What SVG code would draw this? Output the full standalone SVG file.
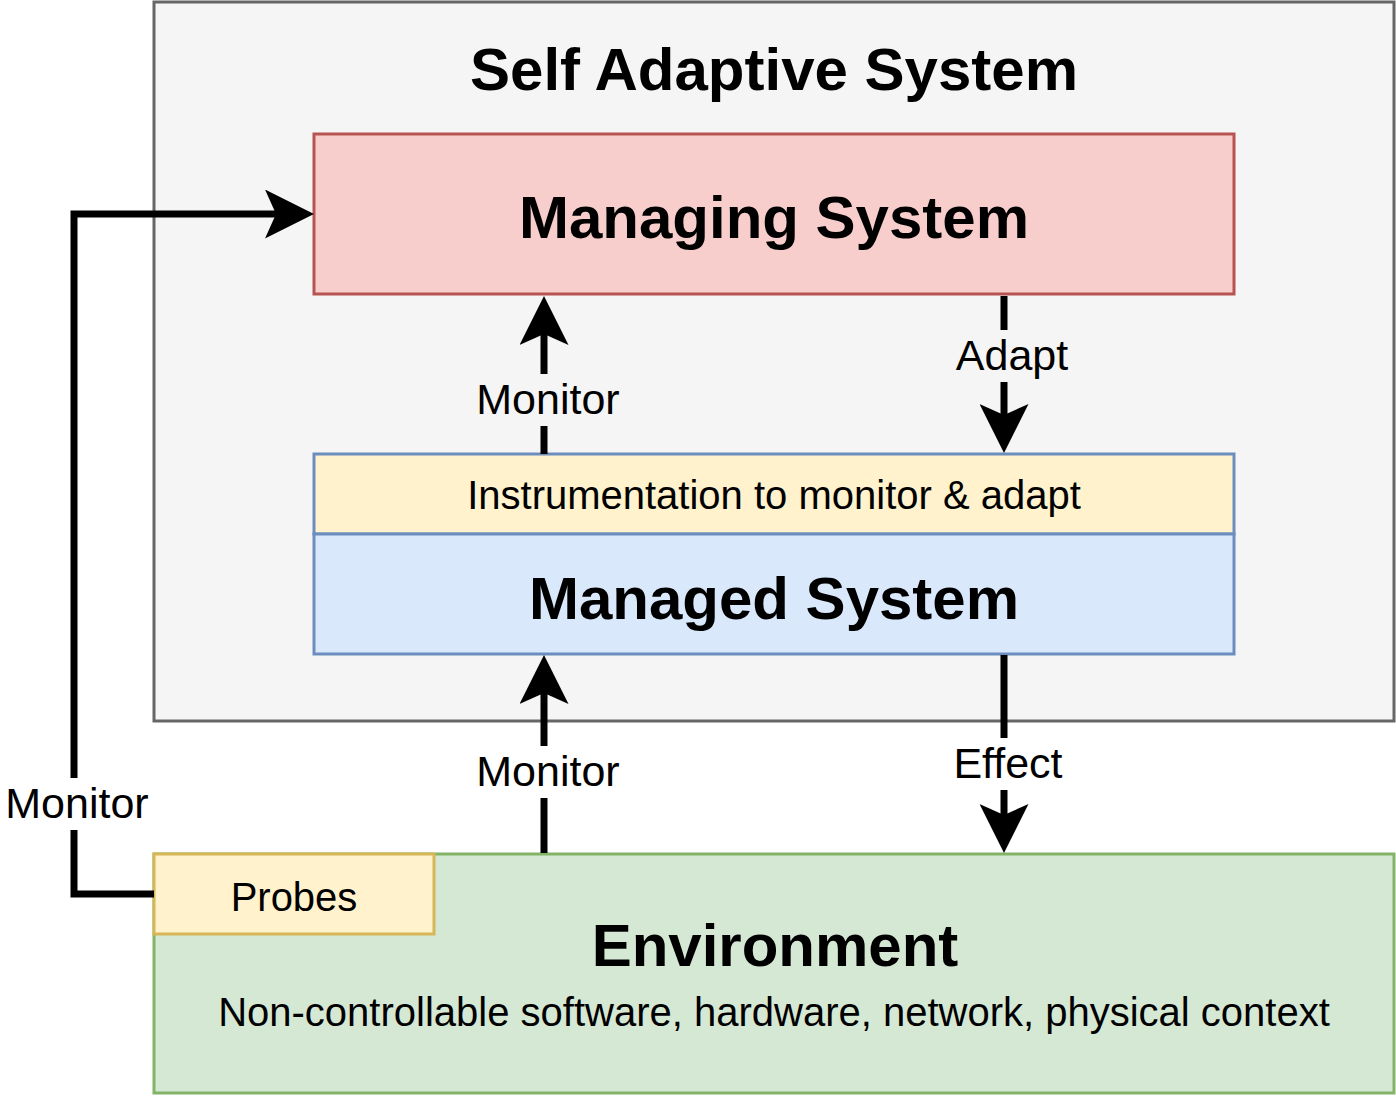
<svg xmlns="http://www.w3.org/2000/svg" width="1396" height="1100" viewBox="0 0 1396 1100">
  <style>
    text { font-family: "Liberation Sans", Arial, Helvetica, sans-serif; fill: #000; text-anchor: middle; }
    .title { font-size: 60px; font-weight: bold; }
    .body { font-size: 40px; }
    .lbl { font-size: 43px; }
    .box { stroke-width: 3; }
    .edge { fill: none; stroke: #000; stroke-width: 7; stroke-linejoin: miter; }
  </style>
  <defs>
    <marker id="arrow" viewBox="0 0 49 49" refX="11" refY="24.5" markerWidth="49" markerHeight="49" markerUnits="userSpaceOnUse" orient="auto">
      <path d="M0,0 L49,24.5 L0,49 L11,24.5 Z" fill="#000"/>
    </marker>
  </defs>
  <rect width="1396" height="1100" fill="#ffffff"/>

  <g id="self-adaptive-system">
    <rect class="box" x="154" y="2" width="1240" height="719" fill="#f5f5f5" stroke="#666666"/>
    <text class="title" x="774" y="90">Self Adaptive System</text>
  </g>

  <g id="managing-system">
    <rect class="box" x="314" y="134" width="920" height="160" fill="#f8cecc" stroke="#b85450"/>
    <text class="title" x="774" y="238">Managing System</text>
  </g>

  <g id="instrumentation">
    <rect class="box" x="314" y="454" width="920" height="80" fill="#fff2cc" stroke="#6c8ebf"/>
    <text class="body" x="774" y="509">Instrumentation to monitor &amp; adapt</text>
  </g>

  <g id="managed-system">
    <rect class="box" x="314" y="534" width="920" height="120" fill="#dae8fc" stroke="#6c8ebf"/>
    <text class="title" x="774" y="619">Managed System</text>
  </g>

  <g id="environment">
    <rect class="box" x="154" y="854" width="1240" height="239" fill="#d5e8d4" stroke="#82b366"/>
    <text class="title" x="775" y="966">Environment</text>
    <text class="body" x="774" y="1026">Non-controllable software, hardware, network, physical context</text>
  </g>

  <g id="probes">
    <rect class="box" x="154" y="854" width="280" height="80" fill="#fff2cc" stroke="#d6b656"/>
    <text class="body" x="294" y="911">Probes</text>
  </g>

  <g id="connectors">
    <path class="edge" d="M154,894 L74,894 L74,214 L276,214" marker-end="url(#arrow)"/>
    <path class="edge" d="M544,454 L544,334" marker-end="url(#arrow)"/>
    <path class="edge" d="M1004,296 L1004,415" marker-end="url(#arrow)"/>
    <path class="edge" d="M544,853 L544,693" marker-end="url(#arrow)"/>
    <path class="edge" d="M1004,655 L1004,815" marker-end="url(#arrow)"/>

    <g id="label-monitor-left">
      <rect x="4" y="778" width="146" height="52" fill="#ffffff"/>
      <text class="lbl" x="77" y="818">Monitor</text>
    </g>
    <g id="label-monitor-top">
      <rect x="475" y="374" width="146" height="52" fill="#f5f5f5"/>
      <text class="lbl" x="548" y="414">Monitor</text>
    </g>
    <g id="label-adapt">
      <rect x="953" y="330" width="118" height="52" fill="#f5f5f5"/>
      <text class="lbl" x="1012" y="370">Adapt</text>
    </g>
    <g id="label-monitor-bottom">
      <rect x="475" y="746" width="146" height="52" fill="#ffffff"/>
      <text class="lbl" x="548" y="786">Monitor</text>
    </g>
    <g id="label-effect">
      <rect x="952" y="738" width="114" height="52" fill="#ffffff"/>
      <text class="lbl" x="1008" y="778">Effect</text>
    </g>
  </g>
</svg>
